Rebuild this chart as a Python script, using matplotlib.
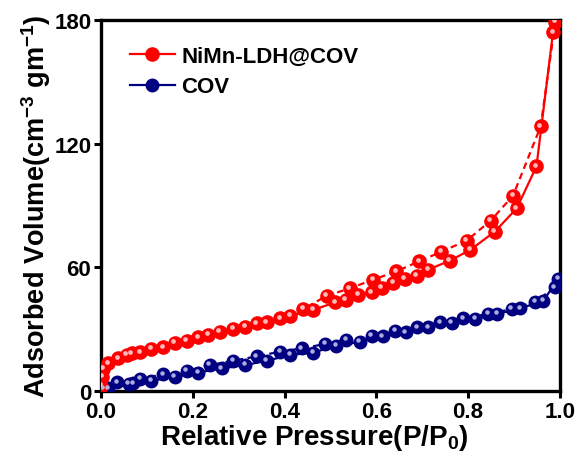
import matplotlib
matplotlib.use("Agg")
import matplotlib.pyplot as plt
from matplotlib.transforms import offset_copy

plt.rcParams['font.family'] = ['Liberation Sans', 'DejaVu Sans']
plt.rcParams['font.weight'] = 'bold'
plt.rcParams['mathtext.fontset'] = 'custom'
plt.rcParams['mathtext.rm'] = 'Liberation Sans:bold'
plt.rcParams['mathtext.it'] = 'Liberation Sans:bold'
plt.rcParams['mathtext.bf'] = 'Liberation Sans:bold'

# NiMn-LDH@COV adsorption / desorption
ldh_ads_x = [0.001, 0.003, 0.005, 0.016, 0.038, 0.056, 0.067, 0.085, 0.11, 0.136,
             0.161, 0.187, 0.212, 0.233, 0.259, 0.288, 0.314, 0.339, 0.361, 0.39,
             0.412, 0.463, 0.51, 0.533, 0.561, 0.59, 0.612, 0.637, 0.662, 0.688,
             0.713, 0.76, 0.805, 0.858, 0.906, 0.949, 0.985]
ldh_ads_y = [2.5, 7.0, 10.7, 13.4, 15.9, 17.5, 18.3, 18.8, 20.4, 21.2,
             23.3, 24.4, 26.0, 27.4, 28.8, 30.1, 31.2, 32.8, 33.3, 35.3,
             36.5, 39.4, 43.0, 44.3, 46.6, 47.9, 50.0, 52.4, 54.3, 55.9,
             58.9, 63.2, 68.5, 77.3, 88.6, 109.0, 174.0]
ldh_des_x = [0.99, 0.958, 0.898, 0.849, 0.797, 0.742, 0.693, 0.643, 0.593, 0.542,
             0.492, 0.441]
ldh_des_y = [179.0, 128.3, 94.8, 82.6, 73.0, 67.6, 62.9, 58.0, 54.0, 49.8,
             46.2, 39.8]

# COV adsorption / desorption
cov_ads_x = [0.005, 0.016, 0.06, 0.07, 0.11, 0.161, 0.212, 0.263, 0.314, 0.361,
             0.412, 0.463, 0.513, 0.564, 0.614, 0.664, 0.713, 0.764, 0.815, 0.863,
             0.914, 0.964, 0.996]
cov_ads_y = [1.0, 1.3, 3.4, 3.7, 5.0, 6.9, 9.0, 11.0, 12.6, 14.7,
             17.5, 18.7, 22.0, 23.9, 26.5, 28.5, 30.9, 33.0, 34.9, 37.4,
             40.1, 43.8, 54.3]
cov_des_x = [0.989, 0.946, 0.895, 0.844, 0.789, 0.739, 0.689, 0.641, 0.59, 0.535,
             0.488, 0.437, 0.39, 0.339, 0.288, 0.237, 0.187, 0.136, 0.085, 0.036]
cov_des_y = [50.3, 43.3, 39.8, 37.4, 35.2, 33.3, 30.9, 29.3, 26.8, 25.0,
             22.8, 20.7, 19.1, 16.8, 14.7, 12.6, 9.8, 8.2, 5.8, 4.2]

red = '#ff0000'
navy = '#000080'

fig = plt.figure(figsize=(5.79, 4.64), dpi=100)
ax = fig.add_axes([0.1744, 0.155, 0.7926, 0.80])

hl = offset_copy(ax.transData, fig=fig, x=-1.0, y=1.2, units='points')

def ball(x, y, c, light, ls, ms, label=None):
    ax.plot(x, y, color=c, ls=ls, lw=1.6, marker='o', ms=ms, mec=c, mfc=c,
            label=label, zorder=3)
    ax.plot(x, y, ls='none', marker='o', ms=ms * 0.36, mec='none', mfc=light,
            alpha=0.9, transform=hl, zorder=4)

ball(cov_ads_x, cov_ads_y, navy, '#c0c0ec', '-', 9, 'COV')
ball(cov_des_x, cov_des_y, navy, '#c0c0ec', (0, (3, 2)), 9)
ball(ldh_ads_x, ldh_ads_y, red, '#ffcccc', '-', 9.5, 'NiMn-LDH@COV')
ball(ldh_des_x, ldh_des_y, red, '#ffcccc', (0, (3, 2)), 9.5)

ax.set_xlim(0, 1.0)
ax.set_ylim(0, 180)
ax.set_xticks([0.0, 0.2, 0.4, 0.6, 0.8, 1.0])
ax.set_yticks([0, 60, 120, 180])
for s in ax.spines.values():
    s.set_linewidth(2.4)
ax.tick_params(direction='out', length=5, width=2.2, labelsize=16, pad=2)
ax.set_xlabel('Relative Pressure(P/P$_0$)', fontsize=20, fontweight='bold')
ax.xaxis.set_label_coords(0.465, -0.082)
ax.set_ylabel('Adsorbed Volume(cm$^{-3}$ gm$^{-1}$)', fontsize=19.5, fontweight='bold', labelpad=1)

h, l = ax.get_legend_handles_labels()
leg = ax.legend(h[::-1], l[::-1], loc='upper left', frameon=False, fontsize=16,
                handlelength=2.0, handletextpad=0.3, labelspacing=0.45,
                bbox_to_anchor=(0.02, 0.985))
for lh in leg.legend_handles:
    lh.set_linestyle('-')

fig.savefig('out.png', dpi=100)
